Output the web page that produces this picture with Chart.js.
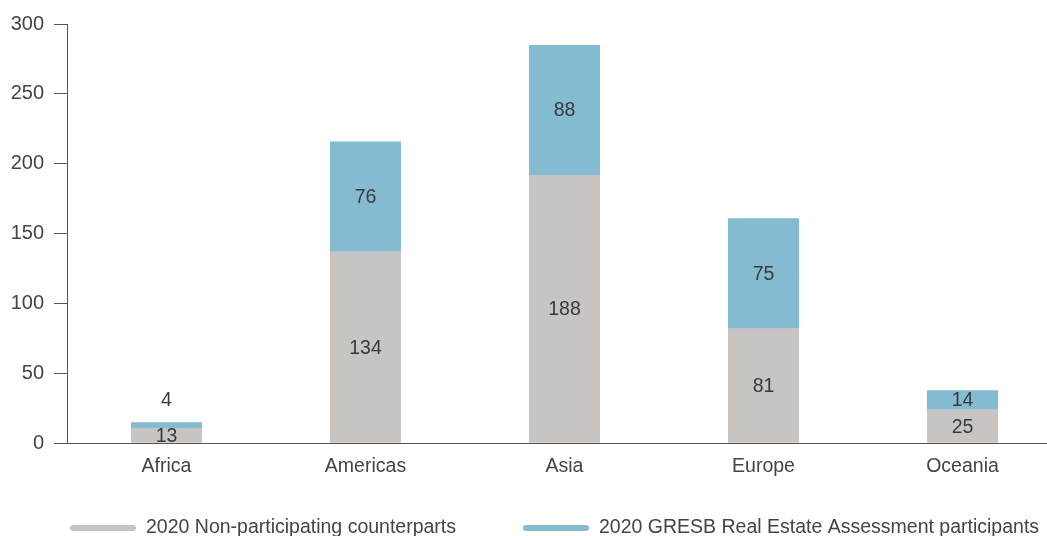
<!DOCTYPE html>
<html>
<head>
<meta charset="utf-8">
<script src="https://cdn.jsdelivr.net/npm/chart.js@4/dist/chart.umd.min.js"></script>
<style>
  html, body { margin: 0; padding: 0; background: #fff; overflow: hidden; }
  #wrap { position: relative; width: 1062px; height: 536px; }
</style>
</head>
<body>
<div id="wrap"><canvas id="c"></canvas></div>
<script>
// ---- data ----
const categories = ["Africa", "Americas", "Asia", "Europe", "Oceania"];
const seriesNames = ["2020 Non-participating counterparts", "2020 GRESB Real Estate Assessment participants"];
// bar heights as drawn against the y axis
const nonParticipatingValues = [11, 137, 192, 82, 24];
const participantValues = [4, 79, 93, 79, 14];
// numbers printed on the bars
const nonParticipatingLabels = ["13", "134", "188", "81", "25"];
const participantLabels = ["4", "76", "88", "75", "14"];
const yTicks = [0, 50, 100, 150, 200, 250, 300];

const GREY = "#c8c4c1";
const BLUE = "#84bbd0";
const TEXT = "#444444";
const AXIS = "#555555";
const FONT = "'Liberation Sans', Helvetica, Arial, sans-serif";

const labelSets = [nonParticipatingLabels, participantLabels];

const barLabelPlugin = {
  id: "barLabels",
  afterDatasetsDraw(chart) {
    const ctx = chart.ctx;
    ctx.save();
    ctx.font = "19.5px " + FONT;
    ctx.fillStyle = "#3a3a3a";
    ctx.textAlign = "center";
    ctx.textBaseline = "middle";
    chart.data.datasets.forEach((ds, di) => {
      const meta = chart.getDatasetMeta(di);
      meta.data.forEach((el, i) => {
        const top = Math.min(el.y, el.base);
        const bottom = Math.max(el.y, el.base);
        const h = bottom - top;
        const txt = labelSets[di][i];
        let y = (top + bottom) / 2 + 1;
        if (h < 12) y = top - 22;
        ctx.fillText(txt, el.x, y);
      });
    });
    ctx.restore();
  }
};

const legendPlugin = {
  id: "lineLegend",
  afterDraw(chart) {
    const ctx = chart.ctx;
    ctx.save();
    ctx.font = "19.5px " + FONT;
    ctx.textBaseline = "middle";
    ctx.textAlign = "left";
    const cy = 528;
    let x = chart.chartArea.left + 3;
    chart.data.datasets.forEach((ds) => {
      ctx.fillStyle = ds.backgroundColor;
      ctx.beginPath();
      ctx.roundRect(x, cy - 3, 66, 6, 3);
      ctx.fill();
      ctx.fillStyle = TEXT;
      ctx.fillText(ds.label, x + 76, cy);
      x += 76 + ctx.measureText(ds.label).width + 67;
    });
    ctx.restore();
  }
};

new Chart(document.getElementById("c"), {
  type: "bar",
  data: {
    labels: categories,
    datasets: [
      { label: seriesNames[0], data: nonParticipatingValues, backgroundColor: GREY,
        barPercentage: 0.357, categoryPercentage: 1.0 },
      { label: seriesNames[1], data: participantValues, backgroundColor: BLUE,
        barPercentage: 0.357, categoryPercentage: 1.0 }
    ]
  },
  options: {
    responsive: true,
    maintainAspectRatio: false,
    animation: false,
    layout: { padding: { top: 24, left: 0, right: 0, bottom: 0 } },
    plugins: { legend: { display: false }, tooltip: { enabled: false } },
    scales: {
      x: {
        stacked: true,
        grid: { display: false, drawTicks: false },
        border: { display: true, color: AXIS, width: 1 },
        ticks: { color: TEXT, font: { family: FONT, size: 19.5 }, padding: 12 },
        afterFit(scale) { scale.height = 92.7; }
      },
      y: {
        stacked: true,
        min: 0, max: 300,
        afterBuildTicks(scale) { scale.ticks = yTicks.map(v => ({ value: v })); },
        grid: { display: true, drawOnChartArea: false, drawTicks: true, tickLength: 13, color: AXIS },
        border: { display: true, color: AXIS, width: 1 },
        ticks: { color: TEXT, font: { family: FONT, size: 20 }, padding: 10 },
        afterFit(scale) { scale.width = 67; }
      }
    }
  },
  plugins: [barLabelPlugin, legendPlugin]
});
</script>
</body>
</html>
